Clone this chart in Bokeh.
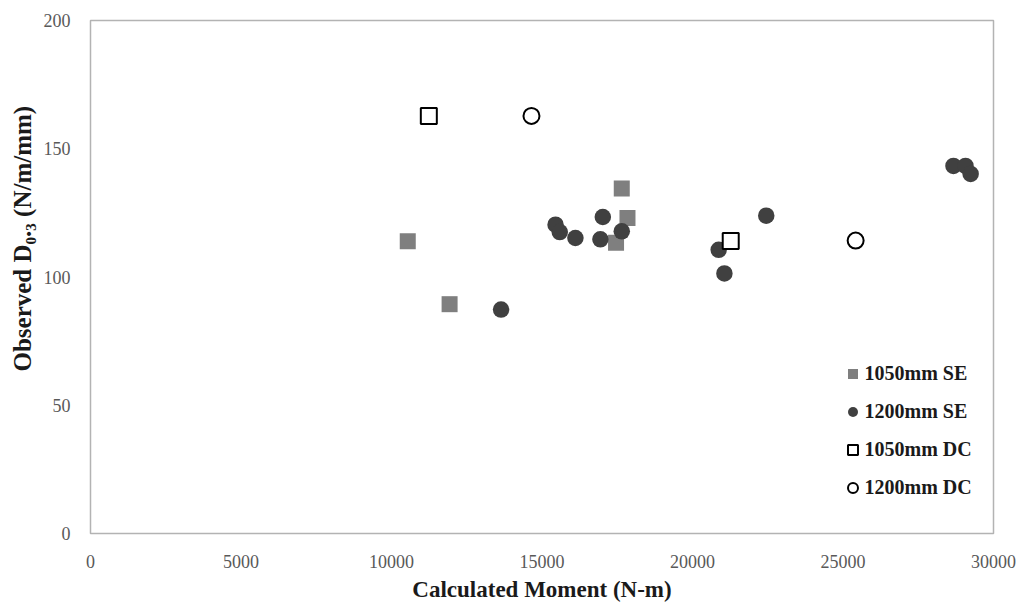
from bokeh.plotting import figure
from bokeh.models import Range1d, FixedTicker, Legend, LegendItem, Title
from bokeh.embed import file_html
from bokeh.resources import INLINE

# ---- data ----
se1050_x = [10540, 11930, 17650, 17840, 17460]
se1050_y = [113.9, 89.4, 134.5, 123.0, 113.4]

se1200_x = [13640, 15450, 15590, 16110, 17020, 16940, 17650, 20870, 21060, 22450, 28670, 29070, 29240]
se1200_y = [87.3, 120.4, 117.5, 115.2, 123.4, 114.7, 117.8, 110.6, 101.4, 123.9, 143.3, 143.3, 140.2]

dc1050_x = [11240, 21270]
dc1050_y = [162.8, 114.0]

dc1200_x = [14650, 25420]
dc1200_y = [162.8, 114.2]

series_labels = ["1050mm SE", "1200mm SE", "1050mm DC", "1200mm DC"]
x_ticks = [0, 5000, 10000, 15000, 20000, 25000, 30000]
y_ticks = [0, 50, 100, 150, 200]
x_title = "Calculated Moment (N-m)"
y_title = "Observed D\u2080.\u2083 (N/m/mm)"

FONT = "Liberation Serif"
TEXT = "#1a1a1a"
TICK = "#595959"
FRAME = "#b3b3b3"

p = figure(width=1021, height=604, output_backend="svg", toolbar_location=None,
           x_range=Range1d(0, 30000), y_range=Range1d(0, 200),
           min_border_left=90, min_border_right=28,
           min_border_top=20, min_border_bottom=69)

p.background_fill_color = "white"
p.border_fill_color = "white"
p.outline_line_color = FRAME
p.outline_line_width = 1.5
p.xgrid.visible = False
p.ygrid.visible = False

for ax in (p.xaxis, p.yaxis):
    ax.axis_line_color = None
    ax.major_tick_line_color = None
    ax.minor_tick_line_color = None
    ax.major_label_text_font = FONT
    ax.major_label_text_font_size = "18px"
    ax.major_label_text_color = TICK

p.xaxis.ticker = FixedTicker(ticks=x_ticks)
p.yaxis.ticker = FixedTicker(ticks=y_ticks)
p.xaxis.major_label_standoff = 15
p.yaxis.major_tick_out = 0
p.yaxis.major_tick_in = 0
p.yaxis.major_label_standoff = 20

p.xaxis.axis_label = x_title
p.xaxis.axis_label_text_font = FONT
p.xaxis.axis_label_text_font_style = "bold"
p.xaxis.axis_label_text_font_size = "23px"
p.xaxis.axis_label_text_color = TEXT
p.xaxis.axis_label_standoff = 6

r1 = p.scatter(se1050_x, se1050_y, marker="square", size=16,
               fill_color="#7f7f7f", line_color=None)
r2 = p.scatter(se1200_x, se1200_y, marker="circle", size=16.5,
               fill_color="#404040", line_color=None)
r3 = p.scatter(dc1050_x, dc1050_y, marker="square", size=16,
               fill_color="white", line_color="black", line_width=2)
r4 = p.scatter(dc1200_x, dc1200_y, marker="circle", size=16,
               fill_color="white", line_color="black", line_width=2)

legend = Legend(
    items=[LegendItem(label=lab, renderers=[r]) for lab, r in zip(series_labels, [r1, r2, r3, r4])],
    location=(749.5, 33.5),
    glyph_width=25, glyph_height=25, label_height=25, spacing=13,
    label_standoff=0, padding=0, margin=0,
    border_line_color=None, background_fill_alpha=0,
    label_text_font=FONT, label_text_font_style="bold",
    label_text_font_size="20px", label_text_color=TEXT,
)
p.add_layout(legend)

# y-axis title as a left-side Title (not clipped, can be offset along the axis)
yt = Title(text=y_title, align="left", offset=162, standoff=10,
           text_font=FONT, text_font_style="bold", text_font_size="25px",
           text_color=TEXT)
p.add_layout(yt, "left")

open("out.html", "w").write(file_html(p, INLINE))
